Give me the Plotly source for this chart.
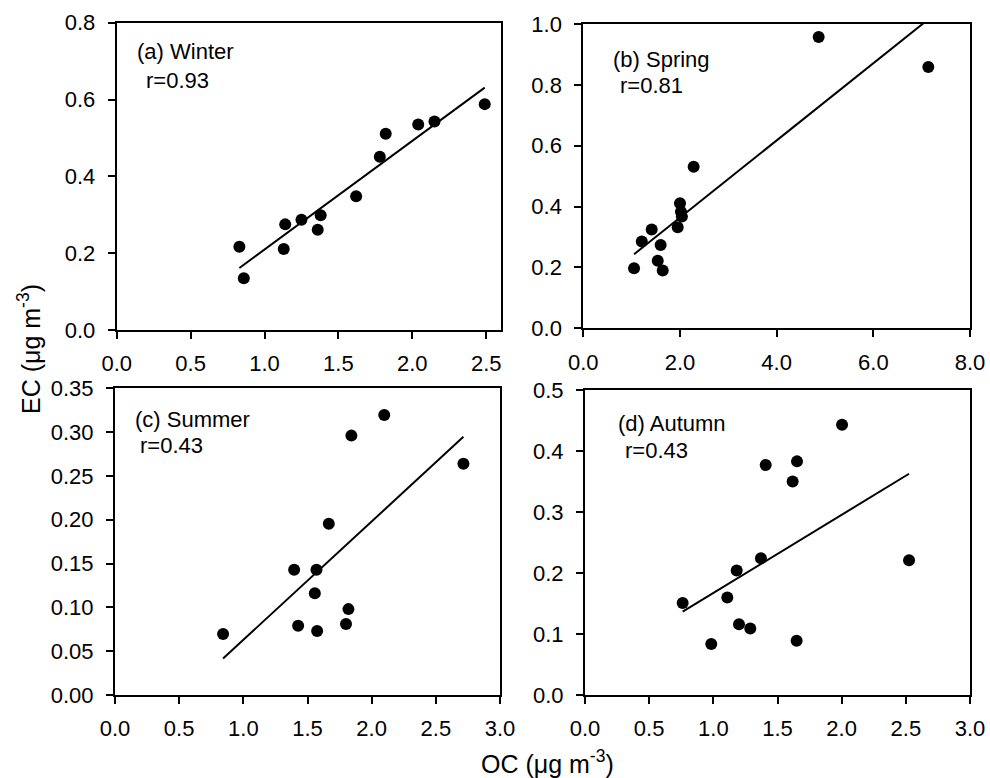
import numpy as np
import plotly.graph_objects as go

# ---- data ----
winter_oc = [0.83, 0.86, 1.13, 1.14, 1.25, 1.36, 1.38, 1.62, 1.78, 1.82, 2.04, 2.15, 2.49]
winter_ec = [0.217, 0.135, 0.211, 0.275, 0.287, 0.261, 0.299, 0.348, 0.451, 0.511, 0.535, 0.543, 0.588]

spring_oc = [1.05, 1.21, 1.415, 1.54, 1.60, 1.643, 1.953, 2.00, 2.02, 2.04, 2.283, 4.869, 7.138]
spring_ec = [0.197, 0.285, 0.325, 0.222, 0.274, 0.190, 0.332, 0.411, 0.383, 0.367, 0.531, 0.957, 0.859]

summer_oc = [0.842, 1.396, 1.427, 1.557, 1.570, 1.575, 1.666, 1.800, 1.819, 1.842, 2.098, 2.715]
summer_ec = [0.0696, 0.143, 0.079, 0.116, 0.143, 0.073, 0.1955, 0.081, 0.098, 0.296, 0.3195, 0.264]

autumn_oc = [0.761, 0.984, 1.109, 1.182, 1.200, 1.288, 1.371, 1.408, 1.618, 1.649, 1.652, 2.003, 2.525]
autumn_ec = [0.151, 0.0836, 0.160, 0.204, 0.116, 0.109, 0.224, 0.377, 0.350, 0.089, 0.383, 0.443, 0.221]

panel_labels = ["(a) Winter", "(b) Spring", "(c) Summer", "(d) Autumn"]
r_labels = ["r=0.93", "r=0.81", "r=0.43", "r=0.43"]

x_ranges = [[0, 2.6], [0, 8.0], [0, 3.0], [0, 3.0]]
x_dticks = [0.5, 2.0, 0.5, 0.5]
y_ranges = [[0, 0.8], [0, 1.0], [0, 0.35], [0, 0.5]]
y_dticks = [0.2, 0.2, 0.05, 0.1]
y_formats = [".1f", ".1f", ".2f", ".1f"]

# the body margin is removed by the post script, so the figure fills the window
W, H = 990, 778


def px(x):
    return x / W


def py(y):
    return 1 - y / H


# panel boxes in window pixels: left, right, top, bottom
boxes = [(116.7, 501, 22.7, 330), (583.3, 970, 24, 328.3),
         (115, 500, 388.3, 695), (585, 970, 390, 695)]
# label positions in window pixels (left x, center y) for title and r
label_pos = [((135, 52), (144, 80)), ((610.7, 60), (618.3, 85)),
             ((132.7, 419.3), (138.3, 445)), ((616, 423.3), (622.7, 450))]

series = [(winter_oc, winter_ec), (spring_oc, spring_ec),
          (summer_oc, summer_ec), (autumn_oc, autumn_ec)]

FONT = "Liberation Sans, Arial, sans-serif"
fig = go.Figure()
layout = dict(width=W, height=H, margin=dict(l=0, r=0, t=0, b=0, autoexpand=False),
              template="none",
              paper_bgcolor="white", plot_bgcolor="white", showlegend=False,
              font=dict(family=FONT, size=22, color="black"))
annotations = []

for i, ((ox, ec), box) in enumerate(zip(series, boxes)):
    n = "" if i == 0 else str(i + 1)
    xa, ya = "x" + n, "y" + n
    ox_a = np.array(ox)
    ec_a = np.array(ec)
    fig.add_trace(go.Scatter(x=ox, y=ec, mode="markers", xaxis=xa, yaxis=ya,
                             marker=dict(size=12, color="black")))
    slope, intercept = np.polyfit(ox_a, ec_a, 1)
    xl = np.array([ox_a.min(), ox_a.max()])
    fig.add_trace(go.Scatter(x=xl, y=intercept + slope * xl, mode="lines",
                             xaxis=xa, yaxis=ya, line=dict(color="black", width=2)))
    l, r, t, b = box
    axcommon = dict(showline=True, linewidth=2, linecolor="black", mirror=True,
                    ticks="outside", ticklen=7, tickwidth=2, tickcolor="black",
                    showgrid=False, zeroline=False, automargin=False,
                    tickfont=dict(family=FONT, size=22, color="black"))
    layout["xaxis" + n] = dict(domain=[px(l), px(r)], range=x_ranges[i], dtick=x_dticks[i],
                               tick0=0, tickformat=".1f", anchor=ya, ticklabelstandoff=6, **axcommon)
    layout["yaxis" + n] = dict(domain=[py(b), py(t)], range=y_ranges[i], dtick=y_dticks[i],
                               tick0=0, tickformat=y_formats[i], anchor=xa, ticklabelstandoff=8, **axcommon)
    (tx, ty), (rx, ry) = label_pos[i]
    annotations.append(dict(text=panel_labels[i], x=px(tx), y=py(ty), xref="paper", yref="paper",
                            xanchor="left", yanchor="middle", showarrow=False,
                            font=dict(family=FONT, size=22, color="black")))
    annotations.append(dict(text=r_labels[i], x=px(rx), y=py(ry), xref="paper", yref="paper",
                            xanchor="left", yanchor="middle", showarrow=False,
                            font=dict(family=FONT, size=22, color="black")))

annotations.append(dict(text="EC (μg m<sup>-3</sup>)", x=px(29), y=py(349), xref="paper", yref="paper",
                        xanchor="center", yanchor="middle", textangle=-90, showarrow=False,
                        font=dict(family=FONT, size=25, color="black")))
annotations.append(dict(text="OC (μg m<sup>-3</sup>)", x=px(547), y=py(762), xref="paper", yref="paper",
                        xanchor="center", yanchor="middle", showarrow=False,
                        font=dict(family=FONT, size=25, color="black")))
layout["annotations"] = annotations
fig.update_layout(**layout)
fig.write_html("out.html", config={"displayModeBar": False},
               post_script="document.body.style.margin='0px';document.body.style.overflow='hidden';")
